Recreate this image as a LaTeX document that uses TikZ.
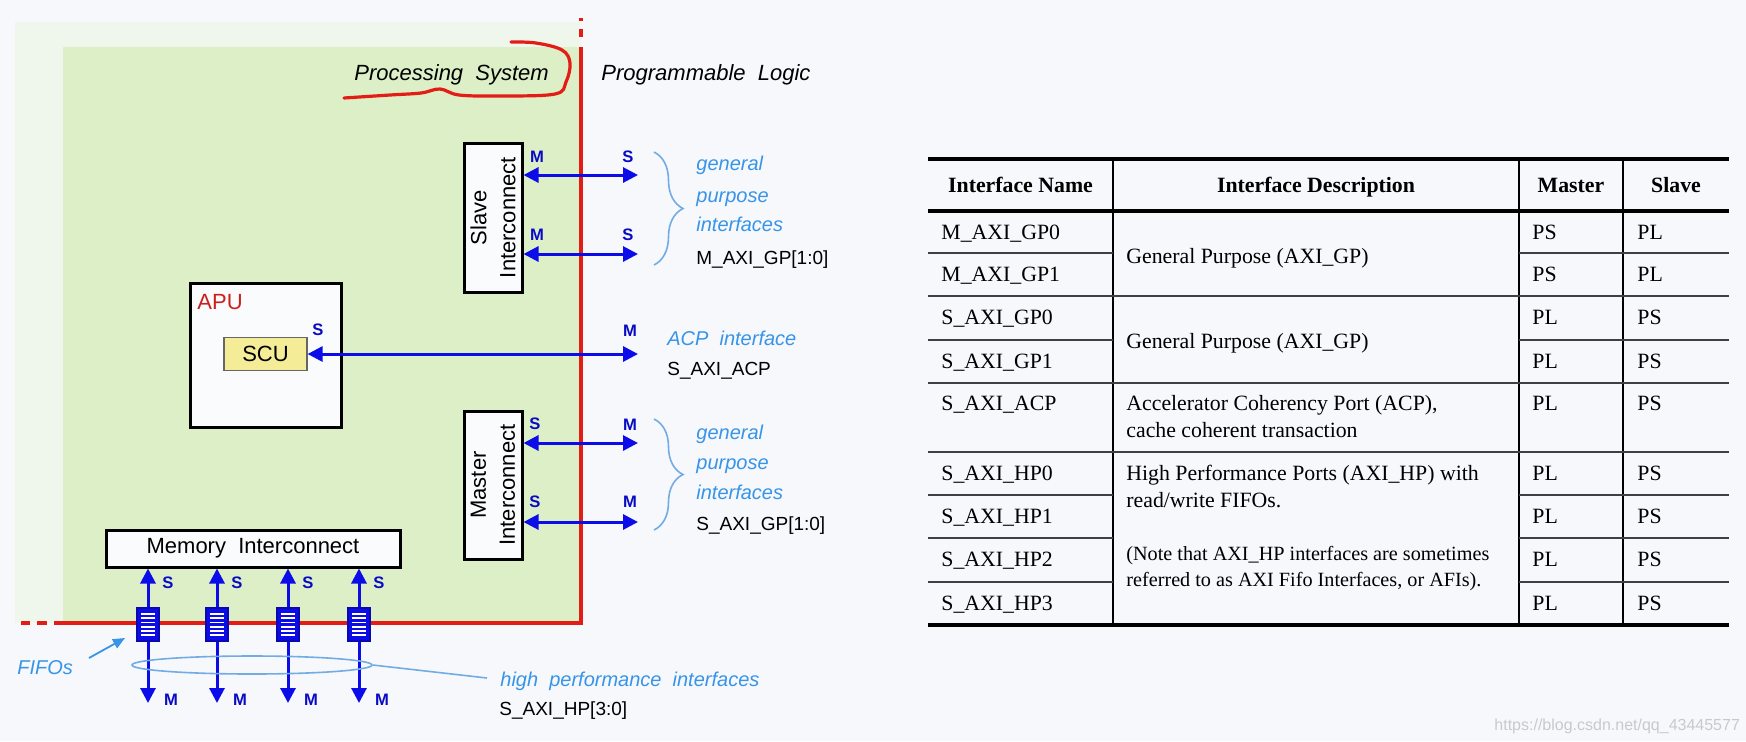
\documentclass[tikz,border=0pt]{standalone}
\usepackage{fontspec}
\setmainfont{Liberation Serif}
\setsansfont{Liberation Sans}
\usetikzlibrary{arrows.meta,shapes.geometric,decorations.pathreplacing}
\definecolor{bgc}{RGB}{246,248,251}
\definecolor{faint}{RGB}{239,246,236}
\definecolor{psgreen}{RGB}{221,239,199}
\definecolor{redl}{RGB}{228,28,22}
\definecolor{arrb}{RGB}{12,12,232}
\definecolor{lblue}{RGB}{55,148,232}
\definecolor{lline}{RGB}{115,172,228}
\definecolor{scuy}{RGB}{244,236,150}
\definecolor{boxw}{RGB}{250,251,253}
\definecolor{wmc}{RGB}{198,202,208}
\definecolor{apured}{RGB}{205,30,30}
\begin{document}
\begin{tikzpicture}[x=0.5pt,y=-0.5pt,
  txt/.style={inner sep=0pt, text height=.7em, text depth=0pt, anchor=west},
  blk/.style={txt, font=\sffamily\fontsize{11}{13}\selectfont},
  lab/.style={txt, font=\sffamily\fontsize{9.5}{11}\selectfont},
  itl/.style={txt, font=\sffamily\itshape\fontsize{10}{12}\selectfont, text=lblue},
  ms/.style={txt, anchor=center, font=\sffamily\bfseries\fontsize{8.3}{10}\selectfont, text=arrb!85!black},
  bx/.style={draw=black, line width=1.5pt, fill=boxw, inner sep=0pt},
  biarr/.style={draw=arrb, line width=1.5pt, {Triangle[length=7.5pt,width=7.5pt]}-{Triangle[length=7.5pt,width=7.5pt]}},
  fifo/.style={draw=arrb!75!black, fill=arrb, line width=0.8pt, minimum width=11pt, minimum height=16.5pt, inner sep=0pt},
  brc/.style={draw=lline, line width=0.8pt, decorate, decoration={brace, amplitude=14.5pt, aspect=0.5}},
  tbl/.style={txt, font=\fontsize{10.9}{13}\selectfont},
  tbn/.style={txt, font=\fontsize{10.1}{13}\selectfont},
  tbh/.style={txt, anchor=center, font=\bfseries\fontsize{10.9}{13}\selectfont},
  thick line/.style={line width=2pt, black},
  thin row/.style={line width=1.2pt, black!75},
  thin col/.style={line width=1pt, black}
]
\useasboundingbox (0,0) rectangle (1746,741);
\fill[bgc] (0,0) rectangle (1746,741);

% ---------------- Processing system area ----------------
\fill[faint] (15,22) rectangle (581,623);
\fill[psgreen] (63,47) rectangle (581,623);

% red borders
\draw[redl, line width=2pt] (581,47) -- (581,625);
\draw[redl, line width=2pt] (581,29) -- (581,37);
\draw[redl, line width=2pt] (581,18) -- (581,21);
\draw[redl, line width=2pt] (54,623) -- (582,623);
\draw[redl, line width=2pt] (37,623) -- (47,623);
\draw[redl, line width=2pt] (21,623) -- (30,623);

% titles
\node[txt, font=\sffamily\itshape\fontsize{11}{13}\selectfont] (pstitle) at (354,73) {Processing\ \ System};
\node[txt, font=\sffamily\itshape\fontsize{11}{13}\selectfont] (pltitle) at (601,73) {Programmable\ \ Logic};
\draw[redl, line width=1.6pt, line cap=round] plot[smooth, tension=0.6] coordinates {(344,98) (390,95) (421,93) (440,89) (459,95) (500,96) (555,94) (566,82) (570,63) (562,50) (536,43) (511,42)};

% ---------------- boxes ----------------
\node[bx, minimum width=29pt, minimum height=74.5pt] (slave) at (493,217.5) {};
\node[inner sep=0pt, rotate=90, align=center, font=\sffamily\fontsize{11}{14.5}\selectfont] (slavetxt) at (slave.center) {Slave\\Interconnect};
\node[bx, minimum width=29pt, minimum height=74pt] (master) at (493,485) {};
\node[inner sep=0pt, rotate=90, align=center, font=\sffamily\fontsize{11}{14.5}\selectfont] (mastertxt) at (master.center) {Master\\Interconnect};
\node[bx, minimum width=75.5pt, minimum height=72pt] (apu) at (265.5,355) {};
\node[txt, font=\sffamily\fontsize{11}{13}\selectfont, text=apured] (aputxt) at (197,302) {APU};
\node[draw=black!60, line width=0.6pt, fill=scuy, minimum width=41.5pt, minimum height=16.5pt, inner sep=0pt, font=\sffamily\fontsize{11}{13}\selectfont] (scu) at (265.5,354) {SCU};
\node[bx, minimum width=147pt, minimum height=18.5pt, font=\sffamily\fontsize{11}{13}\selectfont] (mem) at (253,548.5) {Memory\ \ Interconnect};

% ---------------- horizontal interfaces ----------------
\coordinate (gpa) at (638,175);
\coordinate (gpb) at (638,254);
\coordinate (acp) at (638,354);
\coordinate (sga) at (638,443);
\coordinate (sgb) at (638,522);
\draw[biarr] (slave.east |- gpa) -- (gpa);
\draw[biarr] (slave.east |- gpb) -- (gpb);
\draw[biarr] (scu.east) -- (acp);
\draw[biarr] (master.east |- sga) -- (sga);
\draw[biarr] (master.east |- sgb) -- (sgb);

\node[ms] (lm1) at (537,155) {M};
\node[ms] (lm2) at (537,233) {M};
\node[ms] (ls1) at (628,155) {S};
\node[ms] (ls2) at (628,233) {S};
\node[ms] (lscu) at (318,328) {S};
\node[ms] (lacp) at (630,329) {M};
\node[ms] (ls3) at (535,422) {S};
\node[ms] (ls4) at (535,500) {S};
\node[ms] (lm3) at (630,423) {M};
\node[ms] (lm4) at (630,500) {M};

% braces and labels
\draw[brc] (654,152) -- (654,265) coordinate (brA);
\draw[brc] (654,419) -- (654,530) coordinate (brB);
\node[itl] (g1) at (696,163) {general};
\node[itl] (p1) at (696,195) {purpose};
\node[itl] (i1) at (696,224) {interfaces};
\node[lab] (mgp) at (696,257) {M\_AXI\_GP[1:0]};
\node[itl] (acpi) at (667,338) {ACP\ \ interface};
\node[lab] (sacp) at (667,368) {S\_AXI\_ACP};
\node[itl] (g2) at (696,432) {general};
\node[itl] (p2) at (696,462) {purpose};
\node[itl] (i2) at (696,492) {interfaces};
\node[lab] (sgp) at (696,523) {S\_AXI\_GP[1:0]};

% ---------------- high performance ports ----------------
\foreach \xx [count=\k] in {148,217,288,359} {
  \coordinate (hp\k) at (\xx,703);
  \draw[biarr] (mem.south -| hp\k) -- (hp\k);
  \node[fifo] (f\k) at (\xx,624.5) {};
  \foreach \d in {-5.25,-3.15,-1.05,1.05,3.15,5.25}
    \draw[white, line width=0.9pt] ([xshift=-3.6pt,yshift=\d pt]f\k.center) -- ([xshift=3.6pt,yshift=\d pt]f\k.center);
  \node[ms] (hs\k) at (\xx+20,581) {S};
  \node[ms] (hm\k) at (\xx+23,698) {M};
}
\node[draw=lline, line width=0.8pt, ellipse, minimum width=120pt, minimum height=9pt, inner sep=0pt] (hpell) at (252,665) {};
\coordinate (hpend) at (487,678);
\draw[lline, line width=0.8pt] (hpell.east) -- (hpend);
\node[itl] (hpi) at (500,679) {high\ \ performance\ \ interfaces};
\node[lab] (shp) at (499,708) {S\_AXI\_HP[3:0]};
\node[itl] (fifos) at (17,667) {FIFOs};
\coordinate (fa) at (89,658);
\coordinate (fb) at (125,638);
\draw[lblue, line width=0.9pt, -{Triangle[length=6pt,width=5pt]}] (fa) -- (fb);

% ---------------- table ----------------
\draw[thin col] (1113,159) -- (1113,625);
\draw[thin col] (1519,159) -- (1519,625);
\draw[thin col] (1623,159) -- (1623,625);
\foreach \yy in {296,383,452}
  \draw[thin row] (928,\yy) -- (1729,\yy);
\foreach \yy in {253,340,495,538,582} {
  \draw[thin row] (928,\yy) -- (1113,\yy);
  \draw[thin row] (1519,\yy) -- (1729,\yy);
}
\draw[thick line] (928,159) -- (1729,159);
\draw[thick line] (928,211) -- (1729,211);
\draw[thick line] (928,625) -- (1729,625);

\node[tbh] (h1) at (1020.5,185) {Interface Name};
\node[tbh] (h2) at (1316,185) {Interface Description};
\node[tbh] (h3) at (1571,185) {Master};
\node[tbh] (h4) at (1676,185) {Slave};

\foreach \nm/\mm/\ss/\yy [count=\i] in {M\_AXI\_GP0/PS/PL/232, M\_AXI\_GP1/PS/PL/274, S\_AXI\_GP0/PL/PS/317.5, S\_AXI\_GP1/PL/PS/361, S\_AXI\_ACP/PL/PS/403, S\_AXI\_HP0/PL/PS/473.5, S\_AXI\_HP1/PL/PS/516.5, S\_AXI\_HP2/PL/PS/559, S\_AXI\_HP3/PL/PS/603} {
  \node[tbl] (n\i) at (941,\yy) {\nm};
  \node[tbl] (m\i) at (1532,\yy) {\mm};
  \node[tbl] (s\i) at (1637,\yy) {\ss};
}
\node[tbl] (d1) at (1126,256) {General Purpose (AXI\_GP)};
\node[tbl] (d2) at (1126,341) {General Purpose (AXI\_GP)};
\node[tbl] (d3) at (1126,403) {Accelerator Coherency Port (ACP),};
\node[tbl] (d4) at (1126,430) {cache coherent transaction};
\node[tbl] (d5) at (1126,473) {High Performance Ports (AXI\_HP) with};
\node[tbl] (d6) at (1126,500) {read/write FIFOs.};
\node[tbn] (d7) at (1126,553) {(Note that AXI\_HP interfaces are sometimes};
\node[tbn] (d8) at (1126,579) {referred to as AXI Fifo Interfaces, or AFIs).};

% watermark
\node[txt, font=\sffamily\fontsize{8}{10}\selectfont, text=wmc] (wm) at (1494,723) {https://blog.csdn.net/qq\_43445577};
\end{tikzpicture}
\end{document}
